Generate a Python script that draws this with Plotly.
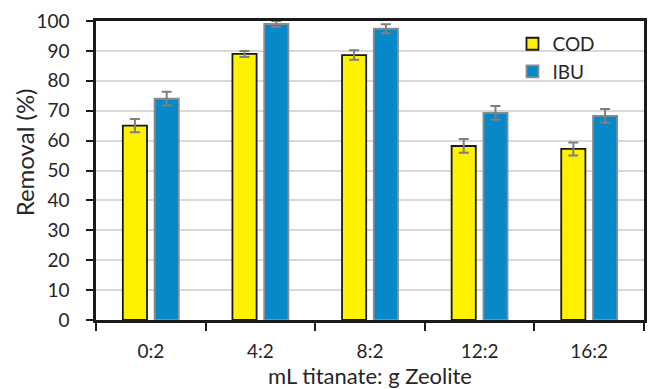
import plotly.graph_objects as go

# Removal efficiency for each titanate : zeolite ratio
ratios = ["0:2", "4:2", "8:2", "12:2", "16:2"]
cod_removal = [65.0, 89.0, 88.6, 58.2, 57.2]
cod_error = [2.2, 1.0, 1.6, 2.3, 2.2]
ibu_removal = [74.0, 99.0, 97.4, 69.3, 68.3]
ibu_error = [2.3, 1.0, 1.5, 2.3, 2.3]

FONT = "Lato"
TEXT = "#262626"
ERR = "#7f7f7f"

fig = go.Figure()
fig.add_trace(go.Bar(
    name="COD", x=ratios, y=cod_removal,
    marker=dict(color="#FFF200", line=dict(color="#1a1a1a", width=1.8)),
    error_y=dict(type="data", array=cod_error, color=ERR, thickness=2, width=5),
))
fig.add_trace(go.Bar(
    name="IBU", x=ratios, y=ibu_removal,
    marker=dict(color="#0788C9", line=dict(color="#8c8c8c", width=1.8)),
    error_y=dict(type="data", array=ibu_error, color=ERR, thickness=2, width=5),
))

fig.update_layout(
    width=650, height=389,
    margin=dict(l=96, r=3, t=21, b=69),
    paper_bgcolor="white", plot_bgcolor="white",
    barmode="group", bargap=0.42, bargroupgap=0.24,
    font=dict(family=FONT, size=19, color=TEXT),
    showlegend=True,
    legend=dict(
        x=0.76, y=0.987, xanchor="left", yanchor="top",
        bgcolor="rgba(0,0,0,0)", font=dict(family=FONT, size=19, color=TEXT),
        traceorder="normal",
    ),
    annotations=[dict(
        text="Removal (%)", textangle=-90,
        xref="paper", yref="paper", x=-0.13, y=0.56,
        xanchor="center", yanchor="middle", showarrow=False,
        font=dict(family=FONT, size=24, color=TEXT),
    )],
)

fig.update_yaxes(
    range=[0, 100], dtick=10,
    showgrid=True, gridcolor="#d9d9d9", gridwidth=1.5,
    showline=True, linecolor="#1a1a1a", linewidth=2.5, mirror=True,
    ticks="outside", ticklen=7, tickwidth=1.5, tickcolor="#1a1a1a",
    ticklabelstandoff=13,
    zeroline=False,
)
fig.update_xaxes(
    showline=True, linecolor="#1a1a1a", linewidth=2.5, mirror=True,
    ticks="outside", tickson="boundaries", ticklen=8, tickwidth=2, tickcolor="#1a1a1a",
    ticklabelstandoff=12,
    title=dict(text="mL titanate: g Zeolite", font=dict(family=FONT, size=22, color=TEXT), standoff=8),
)

fig.write_html("out.html")
